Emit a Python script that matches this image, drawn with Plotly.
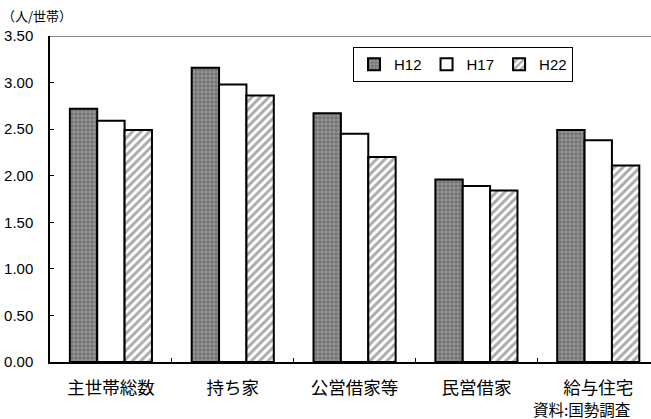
import plotly.graph_objects as go

# Average persons per household by tenure type (census years H12 / H17 / H22)
categories = ["主世帯総数", "持ち家", "公営借家等", "民営借家", "給与住宅"]
years = ["H12", "H17", "H22"]
h12 = [2.72, 3.16, 2.67, 1.96, 2.49]
h17 = [2.59, 2.98, 2.45, 1.89, 2.38]
h22 = [2.49, 2.86, 2.20, 1.84, 2.11]
y_ticks = [0.0, 0.5, 1.0, 1.5, 2.0, 2.5, 3.0, 3.5]

FONT = "Liberation Sans, Arial, Noto Sans CJK JP, sans-serif"
JP_FONT = "Noto Sans CJK JP, sans-serif"

patterns = {
    "H12": dict(shape=".", fgcolor="#505050", bgcolor="#969696", size=4, solidity=0.6),
    "H17": dict(shape="", bgcolor="white"),
    "H22": dict(shape="/", fgcolor="#575757", bgcolor="white", size=6, solidity=0.5),
}
fills = {"H12": "#969696", "H17": "white", "H22": "white"}

fig = go.Figure()
for name, vals in zip(years, [h12, h17, h22]):
    fig.add_trace(go.Bar(
        x=categories, y=vals, name=name,
        marker=dict(color=fills[name], pattern=patterns[name],
                    line=dict(color="black", width=2)),
    ))

W, H = 651, 419
L, T, B, R = 50, 36, 57, 0
plot_w = W - L - R
plot_h = H - T - B

fig.update_layout(
    width=W, height=H,
    margin=dict(l=L, r=R, t=T, b=B, pad=0),
    paper_bgcolor="white", plot_bgcolor="white",
    barmode="group", bargap=0.326, bargroupgap=0.0,
    font=dict(family=FONT, size=15, color="black"),
    showlegend=True,
    legend=dict(
        orientation="h", x=(353 - L) / plot_w, y=1 - (47 - T) / plot_h,
        xanchor="left", yanchor="top",
        bordercolor="black", borderwidth=1, bgcolor="white",
        font=dict(family=FONT, size=15, color="black"),
        itemwidth=30, traceorder="normal", tracegroupgap=0,
    ),
    xaxis=dict(
        type="category", range=[-0.5, 4.433],
        showline=True, linecolor="black", linewidth=1.5,
        ticks="inside", tickson="boundaries", ticklen=4, tickcolor="black",
        tickfont=dict(family=JP_FONT, size=17.5, color="black"),
        ticklabelstandoff=9,
        showgrid=False, zeroline=False,
    ),
    yaxis=dict(
        range=[0, 3.5], tickvals=y_ticks,
        ticktext=[f"{v:.2f}" for v in y_ticks],
        showline=True, linecolor="black", linewidth=1.5,
        ticks="inside", ticklen=4, tickcolor="black",
        tickfont=dict(family=FONT, size=15, color="black"),
        ticklabelstandoff=12,
        showgrid=False, zeroline=False,
    ),
    shapes=[dict(type="line", xref="paper", yref="y", x0=0, x1=1, y0=3.5, y1=3.5,
                 line=dict(color="#888888", width=2))],
    annotations=[
        dict(text="（人/世帯）", xref="paper", yref="paper",
             x=(0 - L) / plot_w, y=1 + (T - 16) / plot_h,
             xanchor="left", yanchor="middle", showarrow=False,
             font=dict(family=JP_FONT, size=13, color="black")),
        dict(text="資料:国勢調査", xref="paper", yref="paper",
             x=(632 - L) / plot_w, y=-(409 - (H - B)) / plot_h,
             xanchor="right", yanchor="middle", showarrow=False,
             font=dict(family=JP_FONT, size=15.5, color="black")),
    ],
)

fig.write_html("out.html")
